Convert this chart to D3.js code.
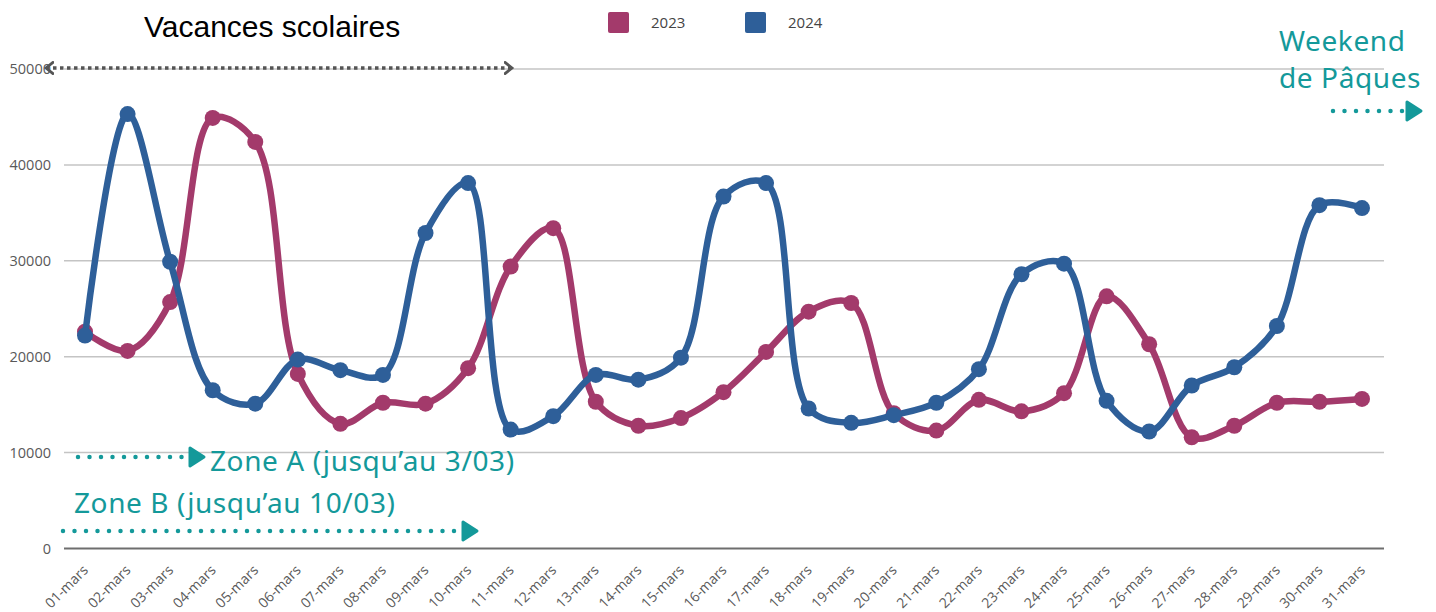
<!DOCTYPE html>
<html>
<head>
<meta charset="utf-8">
<script src="https://cdn.jsdelivr.net/npm/d3@7"></script>
<style>
  body { margin: 0; background: #fff; }
  svg { display: block; }
</style>
</head>
<body>
<div id="chart"></div>
<script>
// data
var days = ["01-mars","02-mars","03-mars","04-mars","05-mars","06-mars","07-mars","08-mars","09-mars","10-mars",
            "11-mars","12-mars","13-mars","14-mars","15-mars","16-mars","17-mars","18-mars","19-mars","20-mars",
            "21-mars","22-mars","23-mars","24-mars","25-mars","26-mars","27-mars","28-mars","29-mars","30-mars","31-mars"];
var values2023 = [22600,20600,25700,44900,42400,18200,13000,15200,15100,18800,
                  29400,33400,15300,12800,13600,16300,20500,24700,25600,14100,
                  12300,15500,14300,16200,26300,21300,11600,12800,15200,15300,15600];
var values2024 = [22200,45300,29900,16500,15100,19700,18600,18100,32900,38100,
                  12400,13800,18100,17600,19900,36700,38100,14600,13100,13900,
                  15200,18700,28600,29700,15400,12200,17000,18900,23200,35800,35500];
var yTicks = [0,10000,20000,30000,40000,50000];
var seriesNames = ["2023","2024"];
var colors = ["#a33a6b","#2e5f99"];
var teal = "#14999a";

var width = 1436, height = 612;
var margin = {top: 69, right: 52, bottom: 64, left: 64};

var svg = d3.select("#chart").append("svg")
    .attr("width", width)
    .attr("height", height);

var x = d3.scalePoint()
    .domain(days)
    .range([85, 1362]);

var y = d3.scaleLinear()
    .domain([0, 50000])
    .range([548.5, 69]);

// grid lines
svg.append("g").selectAll("line")
    .data(yTicks.slice(1))
  .enter().append("line")
    .attr("x1", margin.left)
    .attr("x2", width - margin.right)
    .attr("y1", function(d) { return y(d); })
    .attr("y2", function(d) { return y(d); })
    .style("stroke", "#c4c4c4")
    .style("stroke-width", 1.5);

// baseline
svg.append("line")
    .attr("x1", margin.left)
    .attr("x2", width - margin.right)
    .attr("y1", y(0))
    .attr("y2", y(0))
    .style("stroke", "#6e6e6e")
    .style("stroke-width", 2);

// y labels
svg.append("g").selectAll("text")
    .data(yTicks)
  .enter().append("text")
    .attr("x", 51)
    .attr("y", function(d) { return y(d); })
    .attr("dy", ".35em")
    .attr("text-anchor", "end")
    .style("font", "14.5px 'Open Sans'")
    .style("fill", "#595959")
    .text(function(d) { return d; });

// x labels
svg.append("g").selectAll("text")
    .data(days)
  .enter().append("text")
    .attr("text-anchor", "end")
    .attr("transform", function(d) { return "translate(" + (x(d) + 4) + "," + 571 + ") rotate(-45)"; })
    .style("font", "14px 'Open Sans'")
    .style("fill", "#595959")
    .text(function(d) { return d; });

// the lines
var line = d3.line()
    .x(function(d, i) { return x(days[i]); })
    .y(function(d) { return y(d); })
    .curve(d3.curveCatmullRom.alpha(0.5));

[values2023, values2024].forEach(function(vals, k) {
  var g = svg.append("g");
  g.append("path")
      .attr("d", line(vals))
      .style("fill", "none")
      .style("stroke", colors[k])
      .style("stroke-width", 6.5)
      .style("stroke-linejoin", "round");
  g.selectAll("circle")
      .data(vals)
    .enter().append("circle")
      .attr("cx", function(d, i) { return x(days[i]); })
      .attr("cy", function(d) { return y(d); })
      .attr("r", 8)
      .style("fill", colors[k]);
});

// legend
var legend = svg.append("g").selectAll("g")
    .data(seriesNames)
  .enter().append("g")
    .attr("transform", function(d, i) { return "translate(" + (608 + i * 137) + ",12)"; });
legend.append("rect")
    .attr("width", 21)
    .attr("height", 21)
    .attr("rx", 2)
    .style("fill", function(d, i) { return colors[i]; });
legend.append("text")
    .attr("x", 43)
    .attr("y", 11)
    .attr("dy", ".35em")
    .style("font", "15px 'Open Sans'")
    .style("fill", "#444")
    .text(function(d) { return d; });

// annotations
var defs = svg.append("defs");
defs.append("marker")
    .attr("id", "chev")
    .attr("viewBox", "0 0 10 10")
    .attr("refX", 6).attr("refY", 5)
    .attr("markerWidth", 4).attr("markerHeight", 4)
    .attr("markerUnits", "strokeWidth")
    .attr("orient", "auto-start-reverse")
  .append("path")
    .attr("d", "M1,1 L6,5 L1,9")
    .style("fill", "none")
    .style("stroke", "#555")
    .style("stroke-width", 2)
    .style("stroke-linecap", "round");

svg.append("text")
    .attr("x", 144)
    .attr("y", 37)
    .style("font", "30px 'Liberation Sans'")
    .style("fill", "#000")
    .text("Vacances scolaires");

svg.append("line")
    .attr("x1", 46).attr("x2", 512)
    .attr("y1", 68).attr("y2", 68)
    .style("stroke", "#555")
    .style("stroke-width", 3.5)
    .style("stroke-dasharray", "3.5,3.5")
    .attr("marker-start", "url(#chev)")
    .attr("marker-end", "url(#chev)");

function tealArrow(x1, x2, yy) {
  svg.append("line")
      .attr("x1", x1).attr("x2", x2 - 14)
      .attr("y1", yy).attr("y2", yy)
      .style("stroke", teal)
      .style("stroke-width", 4.5)
      .style("stroke-linecap", "round")
      .style("stroke-dasharray", "0,11.5");
  svg.append("path")
      .attr("d", "M" + (x2 - 14) + "," + (yy - 9) + " L" + x2 + "," + yy + " L" + (x2 - 14) + "," + (yy + 9) + "Z")
      .style("fill", teal)
      .style("stroke", teal)
      .style("stroke-width", 3)
      .style("stroke-linejoin", "round");
}

function tealText(tx, ty, s) {
  svg.append("text")
      .attr("x", tx).attr("y", ty)
      .style("font", "28px 'Noto Sans'")
      .style("letter-spacing", "0.6px")
      .style("fill", teal)
      .text(s);
}

tealText(1279, 51, "Weekend");
tealText(1279, 88, "de Pâques");
tealArrow(1333, 1421, 111);

tealArrow(78, 204, 457);
tealText(210, 471, "Zone A (jusqu’au 3/03)");

tealText(74, 513, "Zone B (jusqu’au 10/03)");
tealArrow(63, 477, 531);
</script>
</body>
</html>
